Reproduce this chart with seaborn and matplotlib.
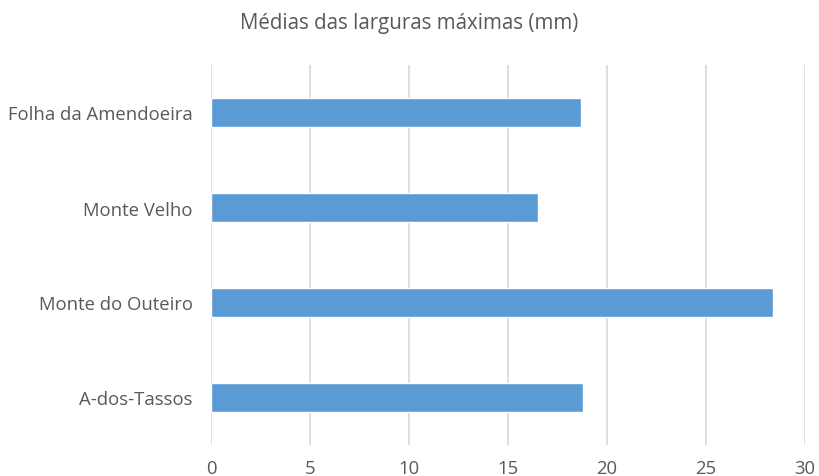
import matplotlib
matplotlib.use("Agg")
import matplotlib.pyplot as plt
import seaborn as sns
import pandas as pd

# dados
sitios = ['Folha da Amendoeira', 'Monte Velho', 'Monte do Outeiro', 'A-dos-Tassos']
largura_media = [18.7, 16.5, 28.4, 18.8]
ticks_x = [0, 5, 10, 15, 20, 25, 30]

df = pd.DataFrame({'Sitio': sitios, 'Largura': largura_media})

sns.set_style('white')
plt.rcParams['font.family'] = ['Open Sans', 'DejaVu Sans']

cinza = '#595959'
fig = plt.figure(figsize=(8.19, 4.77), dpi=100)
ax = fig.add_axes([211 / 819, 31 / 477, 594 / 819, 380 / 477])

sns.barplot(data=df, x='Largura', y='Sitio', order=sitios, color='#5B9BD5',
            width=0.31, saturation=1, ax=ax, zorder=3)

ax.set_xlim(0, 30)
ax.set_xticks(ticks_x)
ax.set_xlabel('')
ax.set_ylabel('')
ax.grid(True, axis='x', color='#d9d9d9', linewidth=1.2, zorder=0)
ax.grid(False, axis='y')
for s in ax.spines.values():
    s.set_visible(False)
ax.tick_params(axis='both', length=0, colors=cinza, labelsize=13.3)
ax.tick_params(axis='x', pad=10)
ax.tick_params(axis='y', pad=13)

fig.text(0.5, 1 - 24 / 477, 'Médias das larguras máximas (mm)', ha='center', va='center',
         fontsize=14.8, color=cinza)

fig.savefig('out.png', dpi=100)
